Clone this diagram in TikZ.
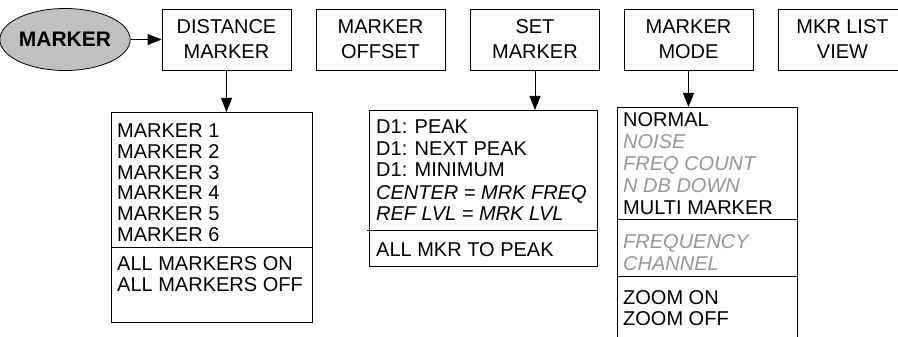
\documentclass[tikz,border=0pt]{standalone}
\usepackage{fontspec}
\setmainfont{Liberation Sans}
\usetikzlibrary{arrows.meta,shapes.geometric}
\definecolor{keygray}{RGB}{192,192,192}
\definecolor{offgray}{RGB}{150,150,150}
\newcommand{\menufont}{\fontsize{20}{25}\selectfont}
\tikzset{
  menubox/.style={draw,line width=0.8pt,minimum width=129pt,minimum height=61pt,align=center,inner sep=0pt},
  listbox/.style={draw,line width=0.8pt,anchor=north west,inner sep=0pt},
  item/.style={anchor=west,inner sep=0pt,text height=14pt,text depth=0pt},
  italitem/.style={item,font=\menufont\itshape},
  offitem/.style={italitem,text=offgray},
  arr/.style={line width=0.8pt,-{Triangle[length=14pt,width=11pt]}}
}
\begin{document}
\begin{tikzpicture}[x=1pt,y=-1pt,font=\menufont]
\useasboundingbox (0,0) rectangle (898,337);
\clip (0,0) rectangle (898,337);
% key and softkeys
\node[ellipse,draw,line width=0.8pt,fill=keygray,minimum width=114pt,minimum height=62pt,inner sep=0pt,font=\fontsize{21}{25}\selectfont\bfseries] (marker) at (65,39.5) {MARKER};
\node[menubox] (dist) at (226.5,39.5) {DISTANCE\\MARKER};
\node[menubox] (offset) at (380.5,39.5) {MARKER\\OFFSET};
\node[menubox] (set) at (535,39.5) {SET\\MARKER};
\node[menubox] (mode) at (688.5,39.5) {MARKER\\MODE};
\node[menubox] (list) at (842.5,39.5) {MKR LIST\\VIEW};
% submenus
\node[listbox,minimum width=201pt,minimum height=210pt] (distlist) at (111,112) {};
\node[listbox,minimum width=228pt,minimum height=156pt] (setlist) at (369,110) {};
\node[listbox,minimum width=180pt,minimum height=250pt] (modelist) at (617,107) {};
\draw[arr] (marker) -- (dist);
\draw[arr] (dist.south) -- (dist.south |- distlist.north);
\draw[arr] (set.south) -- (set.south |- setlist.north);
\draw[arr] (mode.south) -- (mode.south |- modelist.north);
% distance marker
\foreach \i in {1,...,6}
  \node[item] (m\i) at (117,{131+20.6*(\i-1)}) {MARKER \i};
\draw[line width=0.8pt] (111,247) -- (312,247);
\node[item] (allon) at (117,263) {ALL MARKERS ON};
\node[item] (alloff) at (117,284) {ALL MARKERS OFF};
% set marker
\node[item] (peak) at (376,127) {D1: PEAK};
\node[item] (next) at (376,148) {D1: NEXT PEAK};
\node[item] (min) at (376,169) {D1: MINIMUM};
\node[italitem] (center) at (376,192) {CENTER = MRK FREQ};
\node[italitem] (ref) at (376,213) {REF LVL = MRK LVL};
\draw[line width=0.8pt] (367,230) -- (597,230);
\node[item] (allpeak) at (376,249) {ALL MKR TO PEAK};
% marker mode
\node[item] (normal) at (623,120) {NORMAL};
\node[offitem] (noise) at (623,142) {NOISE};
\node[offitem] (count) at (623,163) {FREQ COUNT};
\node[offitem] (ndb) at (623,186) {N DB DOWN};
\node[item] (multi) at (623,207) {MULTI MARKER};
\draw[line width=0.8pt] (617,219) -- (797,219);
\node[offitem] (freq) at (623,241) {FREQUENCY};
\node[offitem] (chan) at (623,263) {CHANNEL};
\draw[line width=0.8pt] (617,276) -- (797,276);
\node[item] (zon) at (623,297) {ZOOM ON};
\node[item] (zoff) at (623,318) {ZOOM OFF};
\end{tikzpicture}
\end{document}
